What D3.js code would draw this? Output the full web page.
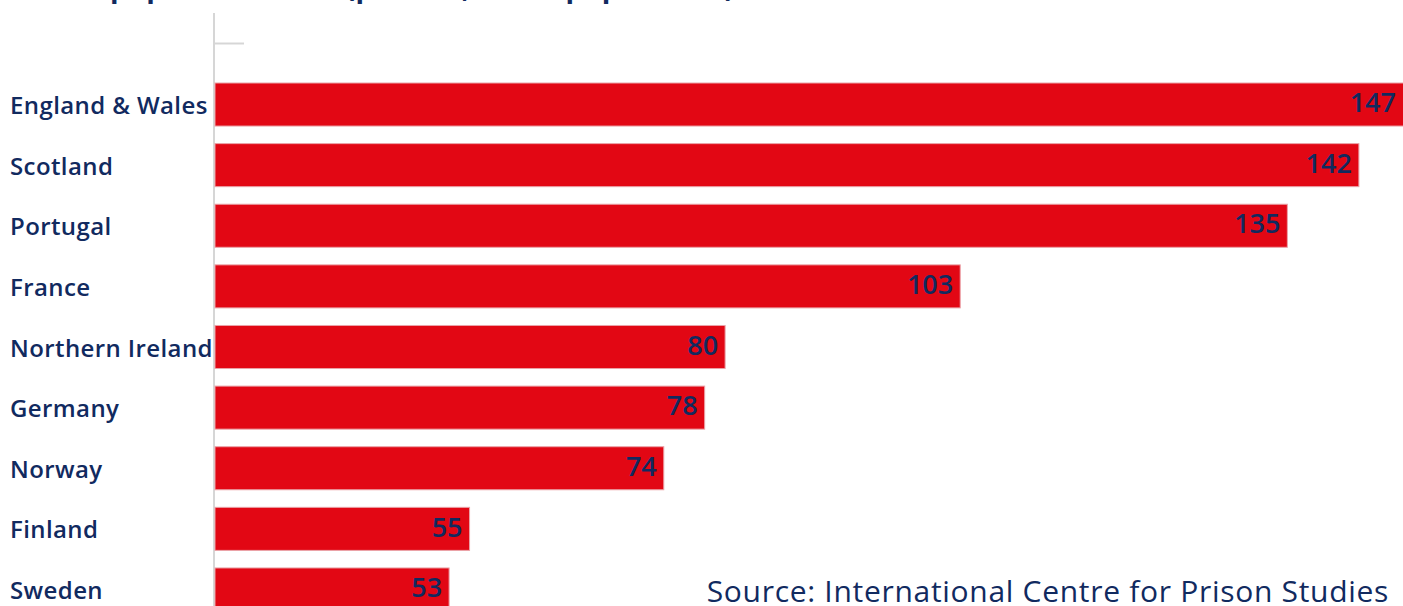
<!DOCTYPE html>
<html>
<head>
<meta charset="utf-8">
<script src="https://cdn.jsdelivr.net/npm/d3@7"></script>
<style>
    body { margin: 0; background: #fff; overflow: hidden; }
    svg { display: block; font-family: "Open Sans", Lato, sans-serif; }
</style>
</head>
<body>
<div id="chart"></div>
<script>
const countries = ['England & Wales', 'Scotland', 'Portugal', 'France', 'Northern Ireland',
    'Germany', 'Norway', 'Finland', 'Sweden'];
const rates = [147, 142, 135, 103, 80, 78, 74, 55, 53];
const title = 'Prison population rate (per 100,000 of population)';
const source = 'Source: International Centre for Prison Studies';

const width = 1403, height = 606;
const navy = '#112a5f';
const red = '#e20714';

const data = countries.map((c, i) => ({country: c, rate: rates[i]}));

const svg = d3.select('#chart').append('svg')
    .attr('width', width)
    .attr('height', height);

// x axis starts at 30, not zero
const x = d3.scaleLinear()
    .domain([30, 147])
    .range([214, 1410]);

const y = d3.scaleBand()
    .domain(countries)
    .range([83, 611])
    .paddingInner(0.29)
    .paddingOuter(0);

// Title (mostly cut off at the top, as in the original)
svg.append('text')
    .attr('x', 10)
    .attr('y', -3)
    .attr('fill', navy)
    .style('font-size', '28px')
    .style('font-weight', 'bold')
    .style('letter-spacing', '0.6px')
    .text(title);

// Axis line and its lone tick
svg.append('line')
    .attr('x1', x(30)).attr('x2', x(30))
    .attr('y1', 13).attr('y2', height)
    .attr('stroke', '#c8c8c8')
    .attr('stroke-width', 1.5);

svg.append('line')
    .attr('x1', x(30)).attr('x2', x(30) + 30)
    .attr('y1', 43.5).attr('y2', 43.5)
    .attr('stroke', '#d6d6d6')
    .attr('stroke-width', 2);

// Bars
svg.selectAll('.bar')
    .data(data)
    .enter().append('rect')
    .attr('class', 'bar')
    .attr('x', x(30) + 1)
    .attr('y', d => y(d.country))
    .attr('width', d => x(d.rate) - x(30) - 1)
    .attr('height', y.bandwidth())
    .attr('fill', red)
    .attr('stroke', '#eaa3a8')
    .attr('stroke-width', 1);

// Value labels inside the bar ends
svg.selectAll('.value')
    .data(data)
    .enter().append('text')
    .attr('class', 'value')
    .attr('x', d => Math.min(x(d.rate), width) - 7)
    .attr('y', d => y(d.country) + y.bandwidth() / 2 - 2)
    .attr('dy', '0.36em')
    .attr('text-anchor', 'end')
    .attr('fill', navy)
    .style('font-size', '27px')
    .style('font-weight', '600')
    .text(d => d.rate);

// Country labels
svg.selectAll('.label')
    .data(data)
    .enter().append('text')
    .attr('class', 'label')
    .attr('x', 10)
    .attr('y', d => y(d.country) + y.bandwidth() / 2 + 1)
    .attr('dy', '0.36em')
    .attr('fill', navy)
    .style('font-size', '24px')
    .style('font-weight', '600')
    .style('letter-spacing', '0.4px')
    .text(d => d.country);

// Source note
svg.append('text')
    .attr('x', 1389)
    .attr('y', 602)
    .attr('text-anchor', 'end')
    .attr('fill', navy)
    .style('font-size', '30px')
    .style('font-weight', '500')
    .style('letter-spacing', '0.7px')
    .text(source);
</script>
</body>
</html>
